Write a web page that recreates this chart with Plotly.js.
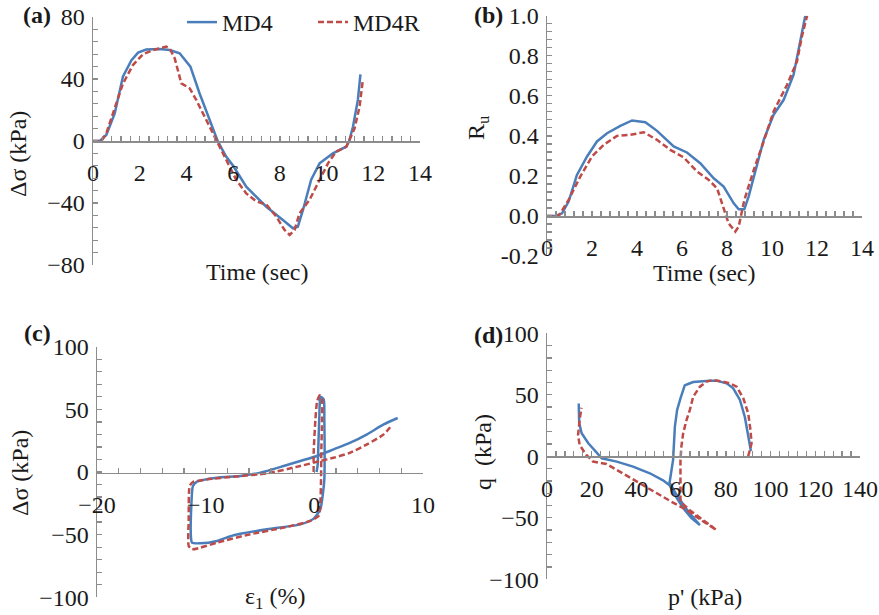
<!DOCTYPE html>
<html>
<head>
<meta charset="utf-8">
<script src="https://cdn.plot.ly/plotly-3.0.1.min.js"></script>
<style>html,body{margin:0;padding:0;background:#fff;}#chart{width:879px;height:615px;}</style>
</head>
<body>
<div id="chart"></div>
<script>
// ---------- Data ----------
// (a) Δσ vs time
const aTimeMD4  = [0,0.29,0.57,0.93,1.28,1.64,1.93,2.28,2.85,3.28,3.71,3.92,4.17,4.56,5.13,5.35,5.7,6.0,6.56,7.42,8.13,8.56,8.77,8.99,9.34,9.7,10.27,10.84,10.96,11.13,11.34,11.45];
const aDsMD4    = [0,0,3.9,17.8,41.5,52,57,59,59.4,58.7,56.6,53,48,30.8,9.2,-0.4,-10,-16,-29.5,-42.4,-51,-56.3,-55.3,-44.5,-25,-14.4,-8,-3.7,-0.4,9.2,26.5,43];
const aTimeMD4R = [0,0.36,0.57,0.93,1.28,1.71,2.14,2.57,3.14,3.28,3.5,3.78,3.92,4.14,4.42,4.85,5.28,5.7,6.13,6.56,6.99,7.42,7.85,8.2,8.42,8.63,8.84,9.27,9.7,10.06,10.41,10.84,10.98,11.2,11.41,11.55];
const aDsMD4R   = [0,0,5,22,37,49,56,58.7,60.9,59.8,53.3,37.2,36,34,26.5,13.5,0.6,-12.3,-25,-33.8,-39,-41,-48.8,-57.4,-60.6,-57.4,-46.7,-38,-25,-14.4,-6.9,-3.7,0.6,8.2,22,39];

// (b) Ru vs time
const bTimeMD4  = [0,0.37,0.67,0.96,1.33,1.78,2.22,2.67,3.26,3.78,4.37,4.89,5.63,6.22,6.81,7.41,7.85,8.3,8.52,8.77,8.96,9.26,9.63,10.07,10.52,10.96,11.33,11.48];
const bRuMD4    = [0,0,0.013,0.072,0.205,0.297,0.372,0.413,0.45,0.477,0.468,0.425,0.347,0.317,0.263,0.188,0.147,0.063,0.033,0.033,0.097,0.23,0.38,0.505,0.58,0.705,0.913,1.0];
const bTimeMD4R = [0,0.52,0.96,1.48,2.0,2.52,3.11,3.7,4.3,4.89,5.48,6.07,6.67,7.19,7.56,7.85,8.07,8.37,8.52,8.77,9.19,9.63,10.07,10.67,11.11,11.33,11.56];
const bRuMD4R   = [0,0,0.08,0.197,0.297,0.355,0.4,0.405,0.418,0.38,0.33,0.293,0.222,0.18,0.138,0.038,-0.037,-0.078,-0.053,0.08,0.23,0.372,0.522,0.655,0.772,0.897,1.0];

// (c) Δσ vs ε1
const cEpsMD4  = [0.2,0.3,0.4,0.45,0.5,0.55,0.86,0.92,0.95,0.92,0.8,0.55,-0.06,-1.29,-4.36,-7.42,-8.96,-10.49,-11.26,-11.35,-11.32,-11.17,-10.8,-8.96,-6.81,-4.97,-2.82,-1.29,0.25,1.78,3.31,4.85,6.38,7.67];
const cDsMD4   = [0,5,29,42,55,60.1,58,42,15.4,-5.9,-16.5,-29.8,-37.2,-41.8,-45.7,-50.5,-55,-56.9,-56.4,-52.4,-27.1,-11.2,-7.7,-4.5,-3.2,-0.5,4.8,8.8,12.8,18.1,23.4,30.1,38,43.1];
const cEpsMD4R = [-0.06,-0.06,0.1,0.25,0.49,0.71,0.71,0.64,0.62,0.55,0.4,-0.37,-2.82,-5.89,-8.96,-10.49,-11.26,-11.56,-11.56,-11.47,-11.17,-9.88,-7.42,-4.36,-1.29,0.55,1.78,3.31,4.85,6.38,7.15];
const cDsMD4R  = [0,15.4,42,56,61.2,58,42,15.4,-5,-25,-35,-39,-44.4,-49.7,-56.4,-60.4,-61.7,-59,-37.8,-11.2,-8,-5.9,-3.7,-1.1,4.8,8.8,11.4,15.4,22.1,30,37.5];

// (d) q vs p'
const dPMD4  = [91.2,90,88.5,86.3,83.3,80.3,75.8,72.8,65.4,63.1,61.6,59.7,58.2,57.2,56.7,56.4,55.7,54.8,57.5,62,66,68.4,64.5,60.9,57,54.8,51.9,46,38.5,31.2,24.5,18.4,15.5,14.4,14.2];
const dQMD4  = [4.3,17.3,32,45.8,55.3,59.3,61.5,61.5,60.4,58.8,57.7,47,37.7,24.1,7.9,-3,-11.1,-21.5,-30,-42,-51,-55.9,-50,-42,-31,-23.5,-19.5,-13.8,-8.4,-4.3,-1.6,10.8,18.7,27,43];
const dPMD4R = [90,91.1,91.5,91,90,87.8,84.8,81.8,78.8,74.3,71.3,68.4,65.4,63.9,62.4,60.9,60.1,59.7,59.7,59.4,59.7,64,70,75.8,69.9,62.4,56.4,49,41.5,34,26.6,20.6,17.6,14.6,13.9,14.6,15.4];
const dQMD4R = [0,6.7,10.6,21.4,35,47.2,56.6,59.3,60.7,62,60.7,56.6,48.5,37.7,29.5,18.7,7.9,-3,-16.5,-30,-36.9,-44,-52,-59.9,-53,-43.6,-37.7,-30,-22,-13.8,-6.2,-4.3,1.1,9.2,17.3,29.5,39.5];

// Tick values / labels
const aXTicks = [0,2,4,6,8,10,12,14];
const aYTicks = [-80,-40,0,40,80];
const bYTicks = [-0.2,0,0.2,0.4,0.6,0.8,1.0];
const bYLabels = ["-0.2","0.0","0.2","0.4","0.6","0.8","1.0"];
const cXTicks = [-20,-10,0,10];
const cYTicks = [-100,-50,0,50,100];
const dXTicks = [0,20,40,60,80,100,120,140];
const dYTicks = [-100,-50,0,50,100];

// ---------- Layout helpers ----------
const W = 879, H = 615;
const fx = px => px / W;
const fy = py => 1 - py / H;
const FONT = "Liberation Serif, Times New Roman, serif";
const AX = '#8c8c8c';
const BLUE = '#4a7ebb', RED = '#be4b48';

function xax(dom, range, pos, tickvals, minorDt, ticktext) {
  const o = {domain: dom, range: range, anchor: 'free', position: pos,
    tickmode: 'array', tickvals: tickvals,
    ticks: 'inside', ticklen: 5, tickwidth: 1.3, tickcolor: AX,
    minor: {dtick: minorDt, ticks: 'inside', ticklen: 5, tickwidth: 1.3, tickcolor: AX, showgrid: false},
    showline: true, linecolor: AX, linewidth: 1.5, showgrid: false, zeroline: false,
    tickfont: {family: FONT, size: 24, color: '#1a1a1a'}, ticklabelstandoff: 10, automargin: false, fixedrange: true};
  if (ticktext) o.ticktext = ticktext;
  return o;
}
function yax(dom, range, anchor, tickvals, minorDt, ticktext) {
  const o = {domain: dom, range: range, anchor: anchor,
    tickmode: 'array', tickvals: tickvals,
    ticks: 'inside', ticklen: 5, tickwidth: 1.3, tickcolor: AX,
    minor: {dtick: minorDt, ticks: 'inside', ticklen: 5, tickwidth: 1.3, tickcolor: AX, showgrid: false},
    showline: true, linecolor: AX, linewidth: 1.5, showgrid: false, zeroline: false,
    tickfont: {family: FONT, size: 24, color: '#1a1a1a'}, ticklabelstandoff: 2, automargin: false, fixedrange: true};
  if (ticktext) o.ticktext = ticktext;
  return o;
}

const blueLine = {color: BLUE, width: 2.5};
const redLine = {color: RED, width: 2.5, dash: '6px,3px'};

const traces = [
  {x: aTimeMD4, y: aDsMD4, xaxis: 'x', yaxis: 'y', mode: 'lines', name: 'MD4', line: blueLine},
  {x: aTimeMD4R, y: aDsMD4R, xaxis: 'x', yaxis: 'y', mode: 'lines', name: 'MD4R', line: redLine},
  {x: bTimeMD4, y: bRuMD4, xaxis: 'x2', yaxis: 'y2', mode: 'lines', name: 'MD4', line: blueLine, showlegend: false},
  {x: bTimeMD4R, y: bRuMD4R, xaxis: 'x2', yaxis: 'y2', mode: 'lines', name: 'MD4R', line: redLine, showlegend: false},
  {x: cEpsMD4, y: cDsMD4, xaxis: 'x3', yaxis: 'y3', mode: 'lines', name: 'MD4', line: Object.assign({shape: 'spline', smoothing: 0.6}, blueLine), showlegend: false},
  {x: cEpsMD4R, y: cDsMD4R, xaxis: 'x3', yaxis: 'y3', mode: 'lines', name: 'MD4R', line: Object.assign({shape: 'spline', smoothing: 0.6}, redLine), showlegend: false},
  {x: dPMD4, y: dQMD4, xaxis: 'x4', yaxis: 'y4', mode: 'lines', name: 'MD4', line: blueLine, showlegend: false},
  {x: dPMD4R, y: dQMD4R, xaxis: 'x4', yaxis: 'y4', mode: 'lines', name: 'MD4R', line: redLine, showlegend: false}
];

function ann(text, px, py, opts) {
  return Object.assign({text: text, x: fx(px), y: fy(py), xref: 'paper', yref: 'paper',
    xanchor: 'center', yanchor: 'middle', showarrow: false,
    font: {family: FONT, size: 24, color: '#1a1a1a'}}, opts || {});
}
const bold = {font: {family: FONT, size: 24, color: '#1a1a1a', weight: 'bold'}};

const layout = {
  width: W, height: H, autosize: false,
  margin: {l: 0, r: 0, t: 0, b: 0},
  paper_bgcolor: '#fff', plot_bgcolor: 'rgba(0,0,0,0)',
  font: {family: FONT, size: 24, color: '#1a1a1a'},
  showlegend: true,
  legend: {orientation: 'h', x: fx(182), y: fy(0), xanchor: 'left', yanchor: 'top',
    font: {family: FONT, size: 24, color: '#1a1a1a'}, bgcolor: 'rgba(0,0,0,0)',
    itemwidth: 30, entrywidth: 86, entrywidthmode: 'pixels', traceorder: 'normal'},
  xaxis:  xax([fx(93), fx(420)], [0, 14], fy(141), aXTicks, 0.4),
  yaxis:  yax([fy(265), fy(17)], [-80, 80], 'x', aYTicks, 8),
  xaxis2: xax([fx(547), fx(862)], [0, 14], fy(216), aXTicks, 0.4),
  yaxis2: yax([fy(256), fy(15.7)], [-0.2, 1.0], 'x2', bYTicks, 0.04, bYLabels),
  xaxis3: xax([fx(97), fx(423)], [-20, 10], fy(472.5), cXTicks, 2),
  yaxis3: yax([fy(597.3), fy(346.7)], [-100, 100], 'x3', cYTicks, 10),
  xaxis4: xax([fx(547), fx(860)], [0, 140], fy(456.3), dXTicks, 4),
  yaxis4: yax([fy(579.3), fy(333.3)], [-100, 100], 'x4', dYTicks, 10),
  annotations: [
    ann('(a)', 37, 15, bold),
    ann('(b)', 488, 15, bold),
    ann('(c)', 37, 333, bold),
    ann('(d)', 488, 335, bold),
    ann('Δσ (kPa)', 18, 154, {textangle: -90}),
    ann('R<sub>u</sub>', 478, 128, {textangle: -90}),
    ann('Δσ (kPa)', 20, 473, {textangle: -90}),
    ann('q  (kPa)', 483, 452, {textangle: -90}),
    ann('Time (sec)', 257, 272),
    ann('Time (sec)', 704, 273),
    ann('ε<sub>1</sub> (%)', 275, 598),
    ann("p' (kPa)", 705, 597)
  ]
};

Plotly.newPlot('chart', traces, layout, {displayModeBar: false, staticPlot: true});
</script>
</body>
</html>
